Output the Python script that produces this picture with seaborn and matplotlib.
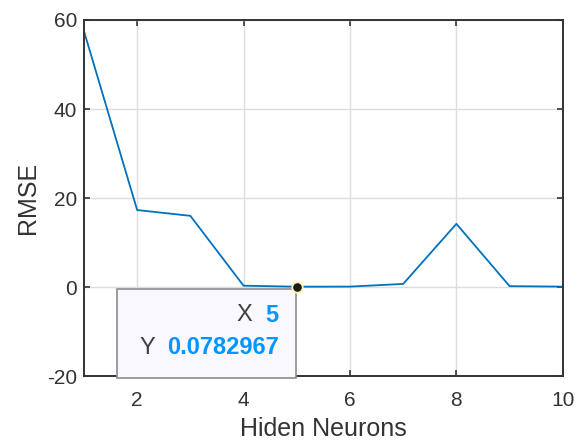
import matplotlib
matplotlib.use("Agg")
import matplotlib.pyplot as plt
import seaborn as sns
import pandas as pd
from matplotlib.patches import Rectangle

neurons = [1, 2, 3, 4, 5, 6, 7, 8, 9, 10]
rmse = [57.5, 17.3, 16.0, 0.3, 0.0782967, 0.1, 0.7, 14.2, 0.2, 0.1]
x_ticks = [2, 4, 6, 8, 10]
y_ticks = [-20, 0, 20, 40, 60]
tip_x = 5
tip_y = 0.0782967

sns.set_theme(style="white")
plt.rcParams['font.family'] = ['Liberation Sans', 'DejaVu Sans']
plt.rcParams['axes.unicode_minus'] = False

df = pd.DataFrame({"Hiden Neurons": neurons, "RMSE": rmse})

fig = plt.figure(figsize=(5.79, 4.44), dpi=100)
ax = fig.add_axes([0.145, 0.153, 0.827, 0.802])
sns.lineplot(data=df, x="Hiden Neurons", y="RMSE", ax=ax, color="#0072BD", linewidth=1.3)

ax.set_xlim(1, 10)
ax.set_ylim(-20, 60)
ax.set_xticks(x_ticks)
ax.set_yticks(y_ticks)
ax.grid(True, color="#dedede", linewidth=1.0)
ax.tick_params(direction="in", length=4, width=1.2, colors="#333333", labelsize=15,
               top=True, right=True, bottom=True, left=True)
ax.tick_params(axis="x", pad=11)
ax.tick_params(axis="y", pad=5)
for s in ax.spines.values():
    s.set_color("#333333")
    s.set_linewidth(1.4)
ax.set_xlabel("Hiden Neurons", fontsize=18, color="#333333", labelpad=5)
ax.set_ylabel("RMSE", fontsize=18, color="#333333", labelpad=5)

# data tip
box = Rectangle((0.069, -0.006), 0.374, 0.25, transform=ax.transAxes,
                facecolor="#f8f8fe", edgecolor="#8c8c8c", linewidth=1.2,
                clip_on=False, zorder=5)
ax.add_patch(box)
ax.plot([tip_x], [tip_y], marker="o", markersize=7.5, color="#1a1a1a",
        markeredgecolor="#fff6b0", markeredgewidth=1.3, zorder=6, clip_on=False)
ax.text(0.407, 0.171, f"{tip_x}", transform=ax.transAxes, ha="right", va="center",
        fontsize=17, color="#0095ff", fontweight="bold", zorder=7)
ax.text(0.336, 0.171, "X", transform=ax.transAxes, ha="center", va="center",
        fontsize=17, color="#404040", zorder=7)
ax.text(0.407, 0.079, f"{tip_y}", transform=ax.transAxes, ha="right", va="center",
        fontsize=17, color="#0095ff", fontweight="bold", zorder=7)
ax.text(0.132, 0.079, "Y", transform=ax.transAxes, ha="center", va="center",
        fontsize=17, color="#404040", zorder=7)

fig.savefig("out.png", dpi=100)
